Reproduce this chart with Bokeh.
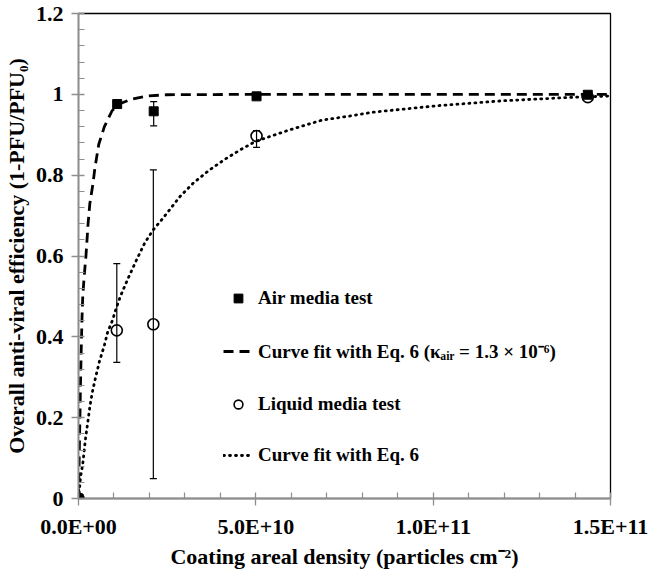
import numpy as np
from bokeh.plotting import figure
from bokeh.models import (Range1d, FixedTicker, CustomJSTickFormatter,
                          Whisker, TeeHead, ColumnDataSource, Legend, LegendItem)
from bokeh.embed import file_html
from bokeh.resources import INLINE

# ---------------- data (x in particles cm^-2) ----------------
air_x = [0.0, 1.09e10, 2.12e10, 5.02e10, 1.436e11]
air_y = [0.0, 0.976, 0.958, 0.995, 0.999]
air_err_x = [2.12e10]
air_err_lo = [0.922]
air_err_hi = [0.982]

liq_x = [0.0, 1.08e10, 2.11e10, 5.02e10, 1.436e11]
liq_y = [0.0, 0.416, 0.431, 0.897, 0.993]
liq_err_x = [1.08e10, 2.11e10, 5.02e10]
liq_err_lo = [0.337, 0.049, 0.869]
liq_err_hi = [0.581, 0.813, 0.910]

# fitted curves (x in units of 1e10)
fit_air_x = [0, 0.02, 0.04, 0.06, 0.08, 0.10, 0.12, 0.16, 0.21, 0.27, 0.32, 0.41, 0.46,
             0.57, 0.73, 0.95, 1.2, 1.5, 1.95, 2.5, 5.0, 10.0, 15.0]
fit_air_y = [0, 0.10, 0.20, 0.30, 0.38, 0.45, 0.50, 0.55, 0.60, 0.68, 0.73, 0.78, 0.816,
             0.876, 0.92, 0.96, 0.978, 0.988, 0.996, 0.999, 1.0, 1.0, 1.0]

fit_liq_x = [0, 0.06, 0.12, 0.16, 0.20, 0.27, 0.32, 0.39, 0.48, 0.59, 0.73, 0.82, 0.95,
             1.05, 1.18, 1.41, 1.64, 1.86, 2.09, 2.32, 2.54, 2.86, 3.23, 3.68, 4.14,
             4.59, 5.0, 5.41, 5.95, 6.86, 7.77, 8.32, 10.14, 11.95, 13.77, 15.0]
fit_liq_y = [0, 0.054, 0.086, 0.118, 0.15, 0.194, 0.227, 0.263, 0.299, 0.339, 0.379, 0.411,
             0.439, 0.467, 0.50, 0.547, 0.591, 0.631, 0.663, 0.687, 0.711, 0.747, 0.78,
             0.812, 0.84, 0.864, 0.884, 0.896, 0.912, 0.936, 0.948, 0.956, 0.972, 0.984,
             0.992, 0.996]

x_ticks = [0.0, 5e10, 1e11, 1.5e11]
x_tick_labels = ["0.0E+00", "5.0E+10", "1.0E+11", "1.5E+11"]
x_minor = [1e10, 2e10, 3e10, 4e10, 6e10, 7e10, 8e10, 9e10, 1.1e11, 1.2e11, 1.3e11, 1.4e11]
y_ticks = [0.0, 0.2, 0.4, 0.6, 0.8, 1.0, 1.2]
y_tick_labels = ["0", "0.2", "0.4", "0.6", "0.8", "1", "1.2"]
y_minor = [round(0.04 * i, 2) for i in range(1, 30) if i % 5 != 0]

FONT = "Liberation Serif"
AXIS_GREY = "#8e8e8e"

p = figure(width=650, height=572, output_backend="svg", toolbar_location=None,
           x_range=Range1d(0, 1.5e11), y_range=Range1d(0, 1.2),
           min_border_left=70, min_border_right=40, min_border_top=13, min_border_bottom=74)
p.xgrid.visible = False
p.ygrid.visible = False
p.outline_line_color = "black"
p.outline_line_width = 1.3
p.background_fill_color = "white"

fmt_code = """
const i = tvals.findIndex(t => Math.abs(t - tick) <= 1e-9 * Math.max(1, Math.abs(t)));
return i >= 0 ? tlabels[i] : '';
"""

xa = p.xaxis[0]
xa.ticker = FixedTicker(ticks=x_ticks, minor_ticks=x_minor)
xa.formatter = CustomJSTickFormatter(args=dict(tvals=x_ticks, tlabels=x_tick_labels), code=fmt_code)
ya = p.yaxis[0]
ya.ticker = FixedTicker(ticks=y_ticks, minor_ticks=y_minor)
ya.formatter = CustomJSTickFormatter(args=dict(tvals=y_ticks, tlabels=y_tick_labels), code=fmt_code)

xa.axis_label = "Coating areal density (particles cm\u207b\u00b2)"
ya.axis_label = "Overall anti-viral efficiency (1-PFU/PFU\u2080)"

for ax in (xa, ya):
    ax.axis_line_color = AXIS_GREY
    ax.axis_line_width = 1.6
    ax.major_tick_line_color = AXIS_GREY
    ax.minor_tick_line_color = AXIS_GREY
    ax.major_tick_line_width = 1.3
    ax.minor_tick_line_width = 1.2
    ax.major_tick_in = 6
    ax.major_tick_out = 7
    ax.minor_tick_in = 6
    ax.minor_tick_out = 0
    ax.major_label_text_font = FONT
    ax.major_label_text_font_style = "bold"
    ax.major_label_text_font_size = "22px"
    ax.major_label_text_color = "black"
    ax.axis_label_text_font = FONT
    ax.axis_label_text_font_style = "bold"
    ax.axis_label_text_font_size = "22px"
    ax.axis_label_text_color = "black"

xa.major_label_standoff = 8
xa.axis_label_standoff = 2
ya.major_label_standoff = 8
ya.axis_label_standoff = 4

# error bars
air_err = ColumnDataSource(dict(x=air_err_x, lo=air_err_lo, hi=air_err_hi))
liq_err = ColumnDataSource(dict(x=liq_err_x, lo=liq_err_lo, hi=liq_err_hi))
for src in (air_err, liq_err):
    w = Whisker(source=src, base="x", lower="lo", upper="hi", dimension="height",
                line_color="black", line_width=1.2,
                upper_head=TeeHead(size=7, line_color="black", line_width=1.2),
                lower_head=TeeHead(size=7, line_color="black", line_width=1.2))
    p.add_layout(w)

# curves
r_fit_air = p.line(np.array(fit_air_x) * 1e10, fit_air_y, line_color="black", line_width=2.8,
                   line_dash="10 6")
r_fit_liq = p.line(np.array(fit_liq_x) * 1e10, fit_liq_y, line_color="black", line_width=2.8,
                   line_dash="1 5", line_cap="round")

# markers
r_air = p.scatter(air_x, air_y, marker="square", size=9, fill_color="black", line_color="black")
r_liq = p.scatter(liq_x, liq_y, marker="circle", size=11, fill_color=None, line_color="black",
                  line_width=1.6)

legend = Legend(items=[
    LegendItem(label="Air media test", renderers=[r_air]),
    LegendItem(label="Curve fit with Eq. 6 (\u03ba\u2090\u1d62\u1d63 = 1.3 \u00d7 10\u207b\u2076)", renderers=[r_fit_air]),
    LegendItem(label="Liquid media test", renderers=[r_liq]),
    LegendItem(label="Curve fit with Eq. 6", renderers=[r_fit_liq]),
], location=(145, 32))
legend.label_text_font = FONT
legend.label_text_font_style = "bold"
legend.label_text_font_size = "19px"
legend.label_text_color = "black"
legend.glyph_width = 30
legend.glyph_height = 22
legend.label_height = 22
legend.label_standoff = 5
legend.spacing = 29
legend.padding = 0
legend.margin = 0
legend.border_line_color = None
legend.background_fill_alpha = 0
p.add_layout(legend)

open("out.html", "w").write(file_html(p, INLINE))
